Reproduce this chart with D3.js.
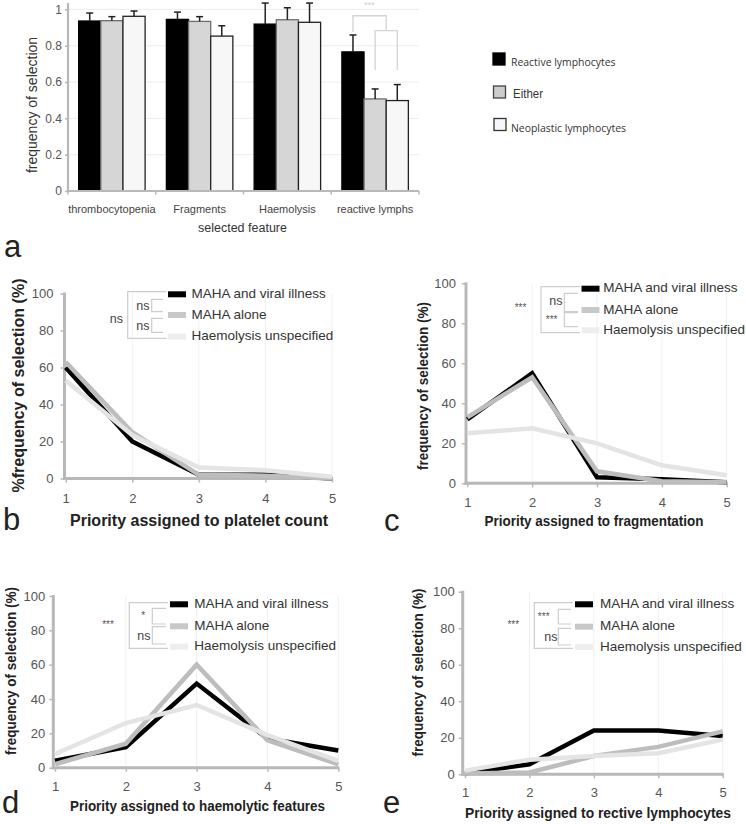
<!DOCTYPE html>
<html><head><meta charset="utf-8">
<script src="https://cdn.jsdelivr.net/npm/d3@7"></script>
<style>body{margin:0;background:#fff}svg{display:block}</style>
</head><body>
<svg id="chart" width="746" height="824"></svg>
<script>
// ---------- DATA ----------
const barCategories = ["thrombocytopenia", "Fragments", "Haemolysis", "reactive lymphs"];
const barSeries = ["Reactive lymphocytes", "Either", "Neoplastic lymphocytes"];
const barReactive   = [0.936, 0.945, 0.919, 0.766];
const barEither     = [0.938, 0.934, 0.943, 0.507];
const barNeoplastic = [0.962, 0.853, 0.929, 0.498];
const errReactive   = [0.044, 0.040, 0.116, 0.093];
const errEither     = [0.022, 0.026, 0.066, 0.055];
const errNeoplastic = [0.029, 0.057, 0.106, 0.088];
const barTicks = [0, 0.2, 0.4, 0.6, 0.8, 1];
const barSig = "***";

const lineSeries = ["MAHA and viral illness", "MAHA alone", "Haemolysis unspecified"];
const priorities = [1, 2, 3, 4, 5];
const lineTicks = [0, 20, 40, 60, 80, 100];

const plateletViral = [60, 20, 2, 2, 0];
const plateletAlone = [63, 25, 2, 1.5, 0];
const plateletUnspec = [53, 23.5, 6, 4.5, 1];
const plateletSig = ["ns", "ns", "ns"];

const fragViral = [32, 55, 3, 2, 0.5];
const fragAlone = [33, 53, 6, 1, 0.5];
const fragUnspec = [25, 27.5, 20, 9, 4];
const fragSig = ["***", "ns", "***"];

const haemViral = [4, 12, 49, 17, 10];
const haemAlone = [2, 14, 60, 16, 2];
const haemUnspec = [8, 26, 36.5, 19, 4];
const haemSig = ["***", "*", "ns"];

const lymphViral = [0.5, 5.5, 24, 24, 21];
const lymphAlone = [0.5, 1, 10, 15, 23.5];
const lymphUnspec = [2, 8, 10, 11.5, 19];
const lymphSig = ["***", "***", "ns"];

// ---------- STYLE ----------
const FONT = "'Liberation Sans', Arial, Helvetica, sans-serif";
const AXIS = "#b8b8b8";
const svg = d3.select("#chart").style("font-family", FONT);

// ---------- PANEL a (bars) ----------
(function () {
  const X0 = 68, X1 = 419, Y0 = 191, Y1 = 9.4;
  const xa = d3.scaleBand().domain(barCategories).range([X0, X1]);
  const xs = d3.scaleBand().domain(barSeries).range([0, xa.bandwidth()]).paddingOuter(0.48);
  const ya = d3.scaleLinear().domain([0, 1]).range([Y0, Y1]);
  const g = svg.append("g");

  g.selectAll("line.grid").data(barTicks.slice(1)).join("line")
    .attr("x1", X0).attr("x2", X1).attr("y1", d => ya(d)).attr("y2", d => ya(d))
    .attr("stroke", "#ededed").attr("stroke-width", 1);

  const vals = [barReactive, barEither, barNeoplastic];
  const errs = [errReactive, errEither, errNeoplastic];
  const fills = ["#000000", "#d6d6d6", "#f7f7f7"];
  const strokes = ["#000000", "#6e6e6e", "#222222"];
  const rows = [];
  barCategories.forEach((c, i) => barSeries.forEach((s, j) => rows.push({ c, s, j, v: vals[j][i], e: errs[j][i] })));

  g.selectAll("rect.bar").data(rows).join("rect")
    .attr("x", d => xa(d.c) + xs(d.s)).attr("width", xs.bandwidth())
    .attr("y", d => ya(d.v)).attr("height", d => ya(0) - ya(d.v))
    .attr("fill", d => fills[d.j]).attr("stroke", d => strokes[d.j]).attr("stroke-width", 1.3);

  const cx = d => xa(d.c) + xs(d.s) + xs.bandwidth() / 2;
  g.selectAll("line.err").data(rows).join("line")
    .attr("x1", cx).attr("x2", cx).attr("y1", d => ya(d.v)).attr("y2", d => ya(d.v + d.e))
    .attr("stroke", "#222").attr("stroke-width", 1.5);
  g.selectAll("line.cap").data(rows).join("line")
    .attr("x1", d => cx(d) - 3.5).attr("x2", d => cx(d) + 3.5)
    .attr("y1", d => ya(d.v + d.e)).attr("y2", d => ya(d.v + d.e))
    .attr("stroke", "#222").attr("stroke-width", 1.5);

  // axes
  g.append("line").attr("x1", X0).attr("x2", X0).attr("y1", Y0).attr("y2", ya(1.035)).attr("stroke", AXIS).attr("stroke-width", 2.2);
  g.append("line").attr("x1", X0 - 1).attr("x2", X1).attr("y1", Y0).attr("y2", Y0).attr("stroke", AXIS).attr("stroke-width", 2.2);
  const bounds = barCategories.map(c => xa(c)).concat([X1]);
  g.selectAll("line.xt").data(bounds).join("line")
    .attr("x1", d => d).attr("x2", d => d).attr("y1", Y0).attr("y2", Y0 + 3.5).attr("stroke", AXIS).attr("stroke-width", 1.5);
  const ay = g.append("g").attr("transform", `translate(${X0},0)`)
    .call(d3.axisLeft(ya).tickValues(barTicks).tickSize(3).tickPadding(3)
      .tickFormat(d => (d === 0 || d === 1) ? String(d) : d3.format(".1f")(d)));
  ay.select(".domain").remove();
  ay.selectAll(".tick line").attr("stroke", AXIS).attr("stroke-width", 1.5);
  ay.selectAll(".tick text").attr("fill", "#555").style("font-size", "12px").style("font-family", FONT);

  g.selectAll("text.cat").data(barCategories).join("text")
    .attr("x", d => xa(d) + xa.bandwidth() / 2).attr("y", 213)
    .attr("text-anchor", "middle").attr("fill", "#444").style("font-size", "11px").text(d => d);
  g.append("text").attr("x", 242.5).attr("y", 232).attr("text-anchor", "middle")
    .attr("fill", "#333").style("font-size", "12.5px").text("selected feature");
  g.append("text").attr("transform", "translate(31.5,105) rotate(-90)")
    .attr("text-anchor", "middle").attr("dominant-baseline", "central")
    .attr("fill", "#333").style("font-size", "14px").text("frequency of selection");

  // significance bracket
  const bx = k => xa(barCategories[3]) + xs(barSeries[k]) + xs.bandwidth() / 2;
  const mid = (bx(1) + bx(2)) / 2;
  const br = g.append("g").attr("fill", "none").attr("stroke", "#d4d4d4").attr("stroke-width", 1.3);
  br.append("path").attr("d", `M${bx(0)},${ya(0.875)}V${ya(0.965)}H${mid}V${ya(0.883)}`);
  br.append("path").attr("d", `M${bx(1)},${ya(0.666)}V${ya(0.883)}H${bx(2)}V${ya(0.666)}`);
  g.append("text").attr("x", (bx(0) + mid) / 2).attr("y", ya(1.025)).attr("text-anchor", "middle")
    .attr("dominant-baseline", "central").attr("fill", "#cfcfcf").style("font-size", "9px").text(barSig);

  // legend
  const lg = svg.append("g");
  const sq = [{ x: 493, y: 53, f: "#000", s: "#000" }, { x: 493.5, y: 86, f: "#cccccc", s: "#444" }, { x: 494, y: 118.5, f: "#f7f7f7", s: "#333" }];
  const lt = [{ x: 511, y: 65.5, w: 104.5, fs: 11 }, { x: 513, y: 97.5, w: 30, fs: 12 }, { x: 511, y: 131.5, w: 115, fs: 11 }];
  barSeries.forEach((s, i) => {
    lg.append("rect").attr("x", sq[i].x).attr("y", sq[i].y).attr("width", 12).attr("height", 12)
      .attr("fill", sq[i].f).attr("stroke", sq[i].s).attr("stroke-width", 1.3);
    lg.append("text").attr("x", lt[i].x).attr("y", lt[i].y).attr("fill", "#333")
      .style("font-family", i === 1 ? FONT : "'Open Sans', 'Noto Sans', sans-serif")
      .style("font-size", lt[i].fs + "px")
      .attr("textLength", lt[i].w).attr("lengthAdjust", "spacingAndGlyphs").text(s);
  });
})();

// ---------- line panels ----------
const lineColors = ["#000000", "#bdbdbd", "#e4e4e4"];
const swatchColors = ["#000000", "#c8c8c8", "#eeeeee"];

function linePanel(cfg) {
  const x = d3.scaleLinear().domain([1, 5]).range([cfg.x1, cfg.x5]);
  const y = d3.scaleLinear().domain([0, 100]).range([cfg.y0, cfg.y100]);
  const g = svg.append("g");

  g.selectAll("line.vg").data(priorities.slice(1)).join("line")
    .attr("x1", d => x(d)).attr("x2", d => x(d)).attr("y1", y(0)).attr("y2", y(100))
    .attr("stroke", "#f0f0f0").attr("stroke-width", 1);

  const ay = g.append("g").attr("transform", `translate(${cfg.ax},0)`)
    .call(d3.axisLeft(y).tickValues(lineTicks).tickSize(4).tickSizeOuter(0).tickPadding(cfg.tp));
  ay.select(".domain").remove();
  ay.selectAll(".tick line").attr("stroke", AXIS).attr("stroke-width", 1.5);
  ay.selectAll(".tick text").attr("fill", "#555").style("font-size", "13px").style("font-family", FONT);
  g.append("line").attr("x1", cfg.ax).attr("x2", cfg.ax).attr("y1", y(0) + 1.5).attr("y2", y(100) - 1)
    .attr("stroke", AXIS).attr("stroke-width", 3);

  const axb = g.append("g").attr("transform", `translate(0,${cfg.y0})`)
    .call(d3.axisBottom(x).tickValues(priorities).tickSize(4).tickSizeOuter(0).tickFormat(d3.format("d")));
  axb.select(".domain").remove();
  axb.selectAll(".tick line").attr("stroke", AXIS).attr("stroke-width", 1.5);
  axb.selectAll(".tick text").attr("y", cfg.xl).attr("dy", "0.71em").attr("fill", "#555")
    .style("font-size", "13px").style("font-family", FONT);
  g.append("line").attr("x1", cfg.ax - 1.5).attr("x2", x(5) + 1).attr("y1", cfg.y0).attr("y2", cfg.y0)
    .attr("stroke", AXIS).attr("stroke-width", 3);

  const line = d3.line().x((d, i) => x(priorities[i])).y(d => y(d));
  g.selectAll("path.ser").data(cfg.series).join("path")
    .attr("d", d => line(d)).attr("fill", "none")
    .attr("stroke", (d, i) => lineColors[i]).attr("stroke-width", 4.5)
    .attr("stroke-linejoin", "miter");

  // legend
  lineSeries.forEach((s, i) => {
    g.append("line").attr("x1", cfg.sx).attr("x2", cfg.sx + 18).attr("y1", cfg.rows[i] + 1).attr("y2", cfg.rows[i] + 1)
      .attr("stroke", swatchColors[i]).attr("stroke-width", 6);
    g.append("text").attr("x", cfg.tx).attr("y", cfg.rows[i]).attr("dominant-baseline", "central")
      .attr("fill", "#333").style("font-size", "13.5px").text(s);
  });

  // brackets
  const br = g.append("g").attr("fill", "none").attr("stroke", "#cdcdcd").attr("stroke-width", 1.2);
  cfg.br.forEach((b, i) => {
    br.append("path").attr("d", `M${b.h},${b.y1}H${b.x}V${b.y2}H${b.h}`);
    const lab = cfg.sig[i];
    const star = lab.indexOf("*") >= 0;
    g.append("text").attr("x", b.lx).attr("y", b.ly + (star ? 3 : 0))
      .attr("text-anchor", b.anchor).attr("dominant-baseline", "central")
      .attr("fill", star ? "#555" : "#444").style("font-size", star ? "10px" : "12.5px").text(lab);
  });

  // y label
  g.append("text").attr("transform", `translate(${cfg.ylx},${cfg.yly}) rotate(-90)`)
    .attr("text-anchor", "middle").attr("dominant-baseline", "central")
    .attr("fill", "#222").style("font-weight", "bold").style("font-size", cfg.ylfs + "px")
    .attr("textLength", cfg.ylw).attr("lengthAdjust", "spacingAndGlyphs").text(cfg.ylab);

  // title
  g.append("text").attr("x", cfg.tcx).attr("y", cfg.tby).attr("text-anchor", "middle")
    .attr("fill", "#222").style("font-weight", "bold").style("font-size", cfg.tfs + "px")
    .attr("textLength", cfg.tw).attr("lengthAdjust", "spacingAndGlyphs").text(cfg.title);

  // panel letter
  g.append("text").attr("x", cfg.letter[0]).attr("y", cfg.letter[1]).attr("fill", "#222")
    .style("font-size", "31px").text(cfg.letter[2]);
}

svg.append("text").attr("x", 4).attr("y", 257).attr("fill", "#222").style("font-size", "31px").text("a");

linePanel({
  x1: 65.7, x5: 332, y0: 478.5, y100: 293.5, ax: 64.5, tp: 7, xl: 15,
  series: [plateletViral, plateletAlone, plateletUnspec], sig: plateletSig,
  sx: 168, tx: 191.5, rows: [293.3, 314, 335.7],
  br: [
    { x: 127.7, y1: 291.7, y2: 338.3, h: 166.5, lx: 123, ly: 319, anchor: "end" },
    { x: 151.7, y1: 299.3, y2: 311.7, h: 163, lx: 149.5, ly: 305.7, anchor: "end" },
    { x: 151.7, y1: 318.3, y2: 332.3, h: 163, lx: 149.5, ly: 326, anchor: "end" }
  ],
  ylab: "%frequency of selection (%)", ylx: 18, yly: 385.5, ylfs: 16, ylw: 214,
  title: "Priority assigned  to platelet count", tcx: 199, tby: 526, tfs: 16, tw: 258,
  letter: [3, 530, "b"]
});

linePanel({
  x1: 467.3, x5: 726.7, y0: 483.3, y100: 283.3, ax: 466, tp: 6, xl: 14,
  series: [fragViral, fragAlone, fragUnspec], sig: fragSig,
  sx: 581.5, tx: 603.3, rows: [287.7, 309, 329.3],
  br: [
    { x: 541, y1: 286.7, y2: 332.7, h: 580, lx: 520.5, ly: 304, anchor: "middle" },
    { x: 564.3, y1: 293.3, y2: 311.7, h: 578, lx: 562.5, ly: 301, anchor: "end" },
    { x: 564.3, y1: 312.7, y2: 326.7, h: 578, lx: 557.5, ly: 316, anchor: "end" }
  ],
  ylab: "frequency of selection (%)", ylx: 423, yly: 386, ylfs: 14.5, ylw: 168,
  title: "Priority  assigned to fragmentation", tcx: 594, tby: 526, tfs: 14, tw: 219,
  letter: [384, 531, "c"]
});

linePanel({
  x1: 55, x5: 338.3, y0: 767.7, y100: 596, ax: 53.3, tp: 4, xl: 14,
  series: [haemViral, haemAlone, haemUnspec], sig: haemSig,
  sx: 170, tx: 194.3, rows: [603.3, 625.3, 645.7],
  br: [
    { x: 129.3, y1: 602.7, y2: 648.3, h: 168, lx: 108, ly: 621, anchor: "middle" },
    { x: 152.3, y1: 608.3, y2: 624, h: 166, lx: 143.3, ly: 612, anchor: "middle" },
    { x: 152.3, y1: 626.7, y2: 644, h: 166, lx: 150.5, ly: 636, anchor: "end" }
  ],
  ylab: "frequency of selection (%)", ylx: 10.5, yly: 671, ylfs: 14.5, ylw: 168,
  title: "Priority  assigned to haemolytic features", tcx: 197.5, tby: 811, tfs: 14, tw: 255,
  letter: [2, 813, "d"]
});

linePanel({
  x1: 465, x5: 722.7, y0: 774.3, y100: 591.7, ax: 462.7, tp: 4, xl: 13,
  series: [lymphViral, lymphAlone, lymphUnspec], sig: lymphSig,
  sx: 575, tx: 600, rows: [603.3, 625.7, 646],
  br: [
    { x: 534.3, y1: 602.7, y2: 648.3, h: 573, lx: 513.3, ly: 621, anchor: "middle" },
    { x: 558.3, y1: 609.3, y2: 624, h: 571, lx: 543.7, ly: 613.5, anchor: "middle" },
    { x: 558.3, y1: 628.3, y2: 645, h: 571, lx: 557.5, ly: 636.7, anchor: "end" }
  ],
  ylab: "frequency of selection (%)", ylx: 417.5, yly: 672.5, ylfs: 14.5, ylw: 168,
  title: "Priority assigned to rective lymphocytes", tcx: 598, tby: 818, tfs: 14, tw: 266,
  letter: [383, 813, "e"]
});
</script>
</body></html>
